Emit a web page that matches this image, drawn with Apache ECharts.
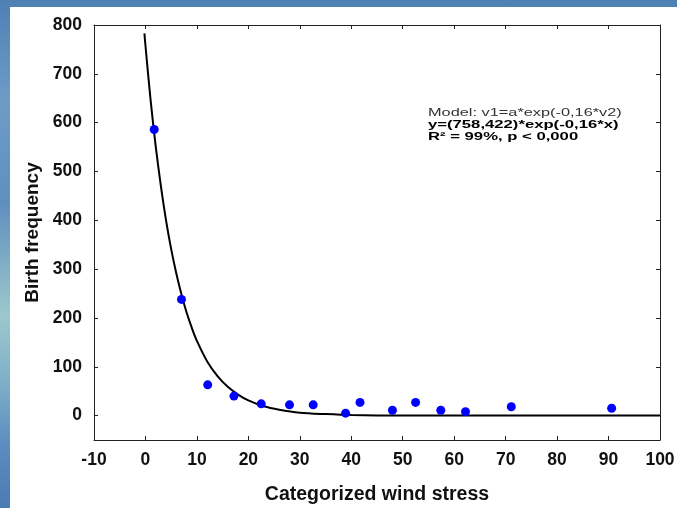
<!DOCTYPE html>
<html>
<head>
<meta charset="utf-8">
<script src="https://cdn.jsdelivr.net/npm/echarts@6/dist/echarts.min.js"></script>
<style>
  html, body { margin: 0; padding: 0; width: 677px; height: 508px; overflow: hidden; }
  body {
    background: linear-gradient(to bottom, #4f80b4 0%, #6d9cc6 20%, #5f8fbf 40%, #9cc8cc 62%, #7fb0c8 75%, #5a8cc0 88%, #4a7bb2 100%);
  }
  #chart { position: absolute; left: 10px; top: 7px; width: 667px; height: 501px; background: #ffffff; }
</style>
</head>
<body>
<div id="chart"></div>
<script>
const windStress = [1.7, 7.0, 12.1, 17.2, 22.5, 28.0, 32.6, 38.9, 41.7, 48.0, 52.5, 57.4, 62.2, 71.1, 90.6];
const birthFreq  = [586, 238, 63, 40, 24, 22, 22, 5, 27, 11, 27, 11, 8, 18, 15];

// Fitted curve
const fitX = [-0.2, 0, 1, 2, 3, 4, 5, 6, 7, 8, 9, 10, 12, 14, 16, 18, 20, 23, 26, 30, 35, 40, 50, 70, 100];
const fitY = [783, 758, 646, 551, 470, 400, 341, 291, 248, 211, 180, 153, 111, 81, 59, 43, 31, 19, 12, 6, 3, 1, 0, 0, 0];

// Tick labels
const yTicks = [0, 100, 200, 300, 400, 500, 600, 700, 800];
const xTicks = [-10, 0, 10, 20, 30, 40, 50, 60, 70, 80, 90, 100];

// Annotation text
const annoLines = [
  'Model: v1=a*exp(-0,16*v2)',
  'y=(758,422)*exp(-0,16*x)',
  'R\u00B2 = 99%, p < 0,000'
];

const FONT = "'Liberation Sans', Arial, sans-serif";
const chart = echarts.init(document.getElementById('chart'), null, { renderer: 'canvas' });

const scatterData = windStress.map((x, i) => [x, birthFreq[i]]);
const fitData = fitX.map((x, i) => [x, fitY[i]]);

const axisLineStyle = { show: true, onZero: false, lineStyle: { color: '#222', width: 1 } };
const tickStyle = { show: true, inside: true, length: 4, lineStyle: { color: '#222' } };

chart.setOption({
  animation: false,
  backgroundColor: '#ffffff',
  grid: { left: 84, top: 18, right: 17, bottom: 68, containLabel: false, outerBoundsMode: 'none' },
  xAxis: [{
    type: 'value', min: -10, max: 100, interval: 10,
    position: 'bottom',
    name: 'Categorized wind stress', nameLocation: 'middle', nameGap: 45,
    nameTextStyle: { fontFamily: FONT, fontSize: 19.5, fontWeight: 'bold', color: '#111' },
    axisLine: axisLineStyle,
    axisTick: tickStyle,
    axisLabel: { fontFamily: FONT, fontSize: 17.5, fontWeight: 'bold', color: '#111', margin: 11 },
    splitLine: { show: false }
  }, {
    type: 'value', min: -10, max: 100, interval: 10,
    position: 'top',
    axisLine: axisLineStyle,
    axisTick: tickStyle,
    axisLabel: { show: false },
    splitLine: { show: false }
  }],
  yAxis: [{
    type: 'value', min: -50, max: 800,
    position: 'left',
    name: 'Birth frequency', nameLocation: 'middle', nameGap: 51, nameRotate: 90,
    nameTextStyle: { fontFamily: FONT, fontSize: 19, fontWeight: 'bold', color: '#111' },
    axisLine: axisLineStyle,
    axisTick: Object.assign({ customValues: yTicks }, tickStyle),
    axisLabel: { fontFamily: FONT, fontSize: 17.5, fontWeight: 'bold', color: '#111', margin: 12, customValues: yTicks },
    splitLine: { show: false }
  }, {
    type: 'value', min: -50, max: 800,
    position: 'right',
    axisLine: axisLineStyle,
    axisTick: Object.assign({ customValues: yTicks }, tickStyle),
    axisLabel: { show: false },
    splitLine: { show: false }
  }],
  series: [{
    type: 'line',
    data: fitData,
    xAxisIndex: 0, yAxisIndex: 0,
    smooth: 0.3,
    showSymbol: false,
    clip: true,
    lineStyle: { color: '#000', width: 2 },
    z: 2
  }, {
    type: 'scatter',
    data: scatterData,
    xAxisIndex: 0, yAxisIndex: 0,
    symbol: 'circle',
    symbolSize: 9,
    itemStyle: { color: '#0000ff', opacity: 1 },
    z: 3
  }],
  graphic: [{
    type: 'text', x: 418, y: 106, scaleX: 1.42,
    style: { text: annoLines[0], fontFamily: FONT, fontSize: 11.5, fontWeight: 'normal', fill: '#333', align: 'left', verticalAlign: 'middle' }
  }, {
    type: 'text', x: 418, y: 118, scaleX: 1.45,
    style: { text: annoLines[1], fontFamily: FONT, fontSize: 11.5, fontWeight: 'bold', fill: '#000', align: 'left', verticalAlign: 'middle' }
  }, {
    type: 'text', x: 418, y: 130, scaleX: 1.45,
    style: { text: annoLines[2], fontFamily: FONT, fontSize: 11.5, fontWeight: 'bold', fill: '#000', align: 'left', verticalAlign: 'middle' }
  }]
});
</script>
</body>
</html>
